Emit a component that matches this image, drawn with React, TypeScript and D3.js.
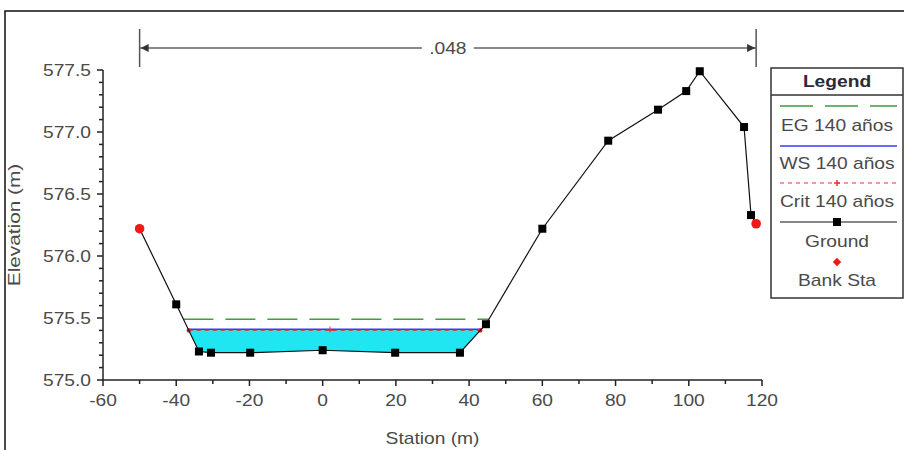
import * as d3 from 'd3';
import React from 'react';

// cross section values
const groundStation = [-50, -40, -33.8, -30.5, -19.8, 0, 19.8, 37.5, 44.6, 60, 78, 91.6, 99.3, 103, 115.1, 117, 118.4];
const groundElev = [576.22, 575.61, 575.23, 575.22, 575.22, 575.24, 575.22, 575.22, 575.45, 576.22, 576.93, 577.18, 577.33, 577.49, 577.04, 576.33, 576.26];
const bankStations = [-50, 118.4];
const egElev = 575.49;
const wsElev = 575.41;
const critElev = 575.4;
const critMidStation = 2;
const manningN = '.048';
const legendLabels = ['EG 140 años', 'WS 140 años', 'Crit 140 años', 'Ground', 'Bank Sta'];

const width = 904;
const height = 450;
const marginLeft = 103;
const marginRight = 142;
const marginTop = 70;
const marginBottom = 70;

const SX = 1.2; // the source picture is a bit wider than tall
const textColor = '#4a4a4a';
const font = 'Liberation Sans, Arial, sans-serif';

const ground = groundStation.map((s, i) => ({ s, e: groundElev[i] }));

// station where the ground crosses a given elevation, searching from the channel outwards
const crossing = (elev, side) => {
  if (side === 'left') {
    for (let i = 0; i < ground.length - 1; i++) {
      const a = ground[i], b = ground[i + 1];
      if (a.e >= elev && b.e < elev) return a.s + ((a.e - elev) / (a.e - b.e)) * (b.s - a.s);
    }
  } else {
    for (let i = ground.length - 1; i > 0; i--) {
      const a = ground[i - 1], b = ground[i];
      if (a.e < elev && b.e >= elev) return a.s + ((elev - a.e) / (b.e - a.e)) * (b.s - a.s);
    }
  }
  return null;
};

const Txt = ({ x, y, anchor = 'middle', size = 16, weight = 'normal', fill = textColor, rotate = 0, children }) => (
  <text
    transform={`translate(${x},${y}) rotate(${rotate}) scale(${rotate ? 1.3 : SX},1)`}
    textAnchor={anchor}
    fontSize={size}
    fontWeight={weight}
    fontFamily={font}
    fill={fill}
  >
    {children}
  </text>
);

const App = () => {
  const x = d3.scaleLinear([-60, 120], [marginLeft, width - marginRight]);
  const y = d3.scaleLinear([575, 577.5], [height - marginBottom, marginTop]);
  const y0 = y.range()[0];

  const line = d3
    .line()
    .x((d) => x(d.s))
    .y((d) => y(d.e));

  // water area between the ground and the water surface
  const wsL = crossing(wsElev, 'left');
  const wsR = crossing(wsElev, 'right');
  const wet = [
    { s: wsL, e: wsElev },
    ...ground.filter((d) => d.s > wsL && d.s < wsR),
    { s: wsR, e: wsElev },
  ];
  const area = d3
    .area()
    .x((d) => x(d.s))
    .y0((d) => y(d.e))
    .y1(() => y(wsElev));

  const egL = crossing(egElev, 'left');
  const egR = crossing(egElev, 'right');
  const crL = crossing(critElev, 'left');
  const crR = crossing(critElev, 'right');

  const xMajor = x.ticks(9);
  const xMinor = x.ticks(18);
  const yMajor = y.ticks(5);
  const yMinor = y.ticks(25);

  const bankPts = bankStations.map((s) => ground.find((d) => d.s === s));
  const plainPts = ground.filter((d) => !bankStations.includes(d.s));

  // manning n bar
  const nx0 = x(groundStation[0]);
  const nx1 = x(groundStation[groundStation.length - 1]);
  const nMid = (nx0 + nx1) / 2;
  const nY = 48;

  // legend
  const lgX = 771;
  const lgW = 132;
  const lgC = lgX + lgW / 2;
  const lx0 = lgX + 9;
  const lx1 = lgX + lgW - 6;
  const lineY = [106, 146, 183, 222, 262];
  const textY = [131, 169, 207, 247, 286];
  const diamond = d3.symbol(d3.symbolDiamond2, 45)();

  return (
    <svg width={width} height={height} style={{ position: 'absolute', left: 0, top: 0, background: '#fff' }}>
      <rect x={5} y={11} width={width + 20} height={height + 20} fill="#fff" stroke="#111" strokeWidth={1.5} />

      {/* water */}
      <path d={area(wet)} fill="#1fe6f0" />
      <line x1={x(egL)} x2={x(egR)} y1={y(egElev)} y2={y(egElev)} stroke="#3c9e3c" strokeWidth={1.5} strokeDasharray="30,12" />
      <line x1={x(wsL)} x2={x(wsR)} y1={y(wsElev)} y2={y(wsElev)} stroke="#3a3af0" strokeWidth={1.5} />
      <line x1={x(crL)} x2={x(crR)} y1={y(critElev)} y2={y(critElev)} stroke="#f03030" strokeWidth={1} strokeDasharray="4,4" />
      <g fill="#f02020">
        <circle cx={x(crL)} cy={y(critElev)} r={2.2} />
        <circle cx={x(crR)} cy={y(critElev)} r={2.2} />
      </g>
      <path
        d={`M${x(critMidStation) - 3},${y(critElev)}h6M${x(critMidStation)},${y(critElev) - 4}v6`}
        stroke="#f03030"
        strokeWidth={1}
      />

      {/* ground */}
      <path d={line(ground)} fill="none" stroke="#111" strokeWidth={1.2} />
      <g fill="#000">
        {plainPts.map((d, i) => (
          <rect key={i} x={x(d.s) - 4} y={y(d.e) - 4} width={8} height={8} />
        ))}
      </g>
      <g fill="#f01818">
        {bankPts.map((d, i) => (
          <circle key={i} cx={x(d.s)} cy={y(d.e)} r={4.8} />
        ))}
      </g>

      {/* x axis */}
      <g stroke="#222" strokeWidth={1.5}>
        <line x1={x.range()[0]} x2={x.range()[1]} y1={y0} y2={y0} />
        {xMinor.map((t) => (
          <line key={'xm' + t} x1={x(t)} x2={x(t)} y1={y0} y2={y0 + (xMajor.includes(t) ? 6 : 4)} />
        ))}
      </g>
      {xMajor.map((t) => (
        <Txt key={'xl' + t} x={x(t)} y={406}>
          {String(t)}
        </Txt>
      ))}
      <Txt x={(x.range()[0] + x.range()[1]) / 2} y={444}>
        Station (m)
      </Txt>

      {/* y axis */}
      <g stroke="#222" strokeWidth={1.5}>
        <line x1={marginLeft} x2={marginLeft} y1={y(577.5)} y2={y0} />
        {yMinor.map((t) => (
          <line
            key={'ym' + t}
            x1={marginLeft}
            x2={marginLeft - (yMajor.some((m) => Math.abs(m - t) < 1e-9) ? 6 : 4)}
            y1={y(t)}
            y2={y(t)}
          />
        ))}
      </g>
      {yMajor.map((t) => (
        <Txt key={'yl' + t} x={91} y={y(t) + 6} anchor="end">
          {d3.format('.1f')(t)}
        </Txt>
      ))}
      <Txt x={20} y={225} rotate={-90}>
        Elevation (m)
      </Txt>

      {/* manning n */}
      <g stroke="#8a8a8a" strokeWidth={2}>
        <line x1={nx0} x2={nMid - 26} y1={nY} y2={nY} />
        <line x1={nMid + 26} x2={nx1} y1={nY} y2={nY} />
      </g>
      <g stroke="#555" strokeWidth={1.5}>
        <line x1={nx0} x2={nx0} y1={29} y2={67} />
        <line x1={nx1} x2={nx1} y1={29} y2={67} />
      </g>
      <path d={`M${nx0 + 1},${nY}l8,-4v8z`} fill="#333" />
      <path d={`M${nx1 - 1},${nY}l-8,-4v8z`} fill="#333" />
      <Txt x={nMid} y={nY + 6}>
        {manningN}
      </Txt>

      {/* legend */}
      <rect x={lgX} y={68} width={lgW} height={230} fill="#fff" stroke="#333" strokeWidth={1.5} />
      <line x1={lgX} x2={lgX + lgW} y1={95} y2={95} stroke="#333" strokeWidth={1.5} />
      <Txt x={lgC} y={87} weight="bold" fill="#2a2a38">
        Legend
      </Txt>
      <line x1={lx0} x2={lx1} y1={lineY[0]} y2={lineY[0]} stroke="#3c9e3c" strokeWidth={1.5} strokeDasharray="33,12" />
      <line x1={lx0} x2={lx1} y1={lineY[1]} y2={lineY[1]} stroke="#3a3af0" strokeWidth={1.5} />
      <line x1={lx0} x2={lx1} y1={lineY[2]} y2={lineY[2]} stroke="#f03030" strokeWidth={1} strokeDasharray="4,4" />
      <path d={`M${lgC - 3},${lineY[2]}h6M${lgC},${lineY[2] - 3}v6`} stroke="#f03030" strokeWidth={1.5} />
      <line x1={lx0} x2={lx1} y1={lineY[3]} y2={lineY[3]} stroke="#111" strokeWidth={1.2} />
      <rect x={lgC - 4} y={lineY[3] - 4} width={8} height={8} fill="#000" />
      <path d={diamond} transform={`translate(${lgC},${lineY[4]})`} fill="#f01818" />
      {legendLabels.map((l, i) => (
        <Txt key={l} x={lgC} y={textY[i]}>
          {l}
        </Txt>
      ))}
    </svg>
  );
};

export default App;
